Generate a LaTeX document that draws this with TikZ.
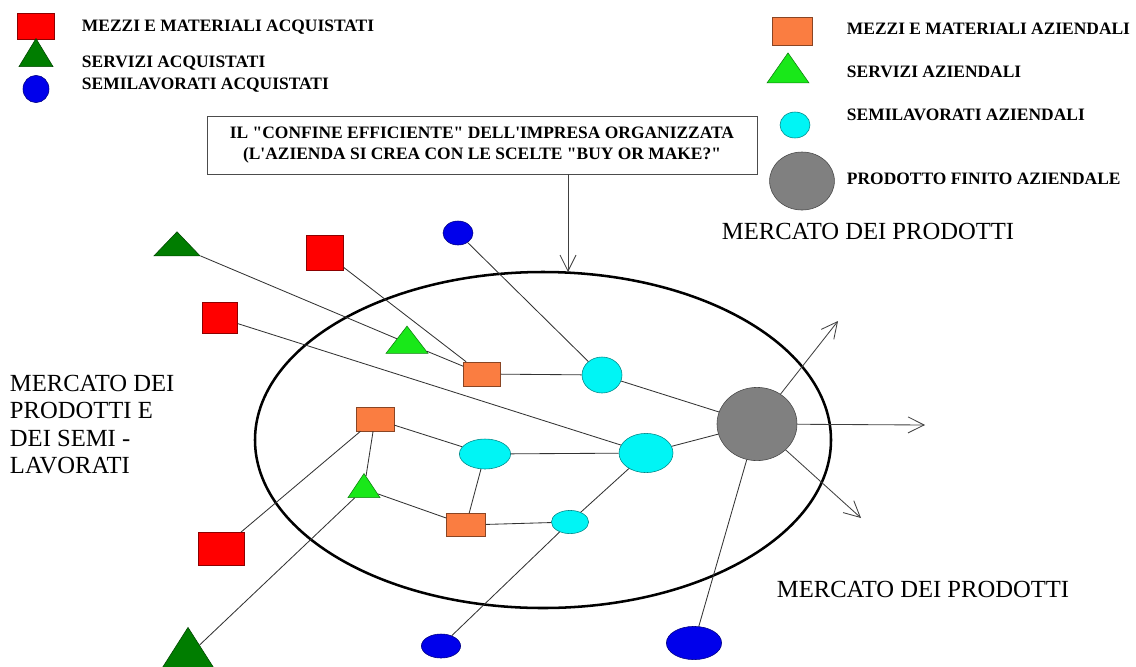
\documentclass[tikz,border=0pt]{standalone}
\usepackage{fontspec}
\setmainfont{Liberation Serif}
\usetikzlibrary{shapes.geometric,arrows.meta}
\definecolor{rosso}{RGB}{255,0,0}
\definecolor{verdescuro}{RGB}{0,125,0}
\definecolor{verdechiaro}{RGB}{25,232,25}
\definecolor{arancio}{RGB}{250,125,65}
\definecolor{ciano}{RGB}{0,245,245}
\definecolor{blu}{RGB}{0,0,235}
\definecolor{grigio}{RGB}{128,128,128}
\tikzset{
    %Define standard arrow tip
    >={Straight Barb[length=4mm,width=4mm]},
    %Define styles for the shapes
    mezzo/.style={
           rectangle,
           draw=#1!55!black,
           fill=#1,
           inner sep=0pt},
    servizio/.style={
           isosceles triangle,
           isosceles triangle stretches,
           shape border rotate=90,
           draw=#1!55!black,
           fill=#1,
           inner sep=0pt},
    semilav/.style={
           ellipse,
           draw=#1!55!black,
           fill=#1,
           inner sep=0pt},
    legenda/.style={
           anchor=west,
           font=\fontsize{12.4}{14}\selectfont\bfseries},
    mercato/.style={
           anchor=west,
           font=\fontsize{17.5}{19.5}\selectfont},
    % Define line styles
    legame/.style={
           draw=black!80,
           line width=0.6pt},
    uscita/.style={
           ->,
           draw=black!75,
           line width=0.6pt}
}
\newcommand{\dq}{\textquotedbl}
\newcommand{\ap}{\textquotesingle}
\begin{document}
\begin{tikzpicture}[x=0.025cm,y=-0.025cm]
\useasboundingbox (0,0) rectangle (1136,666);
% legend, purchased items
\node[mezzo=rosso, minimum width=0.93cm, minimum height=0.65cm] (lr) at (36,26) {};
\node[servizio=verdescuro, minimum width=0.85cm, minimum height=0.7cm] (lt) at (36,57) {};
\node[semilav=blu, minimum width=0.65cm, minimum height=0.68cm] (lc) at (36,89) {};
\node[legenda] at (77,27) {MEZZI E MATERIALI ACQUISTATI};
\node[legenda] at (77,63) {SERVIZI ACQUISTATI};
\node[legenda] at (77,85) {SEMILAVORATI ACQUISTATI};
% legend, company items
\node[mezzo=arancio, minimum width=1cm, minimum height=0.7cm] (ar) at (792,31) {};
\node[servizio=verdechiaro, minimum width=1.05cm, minimum height=0.75cm] (at) at (788,72) {};
\node[semilav=ciano, minimum width=0.75cm, minimum height=0.65cm] (ac) at (795,125) {};
\node[semilav=grigio, minimum width=1.62cm, minimum height=1.45cm] (ap) at (802,181) {};
\node[legenda] at (842,29) {MEZZI E MATERIALI AZIENDALI};
\node[legenda] at (842,72) {SERVIZI AZIENDALI};
\node[legenda] at (842,115) {SEMILAVORATI AZIENDALI};
\node[legenda] at (842,179) {PRODOTTO FINITO AZIENDALE};
% markets
\node[mercato] (mp1) at (717,231) {MERCATO DEI PRODOTTI};
\node[mercato] (mp2) at (772,589) {MERCATO DEI PRODOTTI};
\node[mercato, anchor=north west, align=left] (ms) at (5,370) {MERCATO DEI\\PRODOTTI E\\DEI SEMI -\\LAVORATI};
% boundary of the firm
\draw[line width=1.8pt] (543,440) ellipse [x radius=288, y radius=168];
\coordinate (bordo) at (568,272);
\node[draw=black!70, line width=0.6pt, minimum width=13.75cm, minimum height=1.45cm,
      align=center, font=\fontsize{12.4}{14.5}\selectfont\bfseries] (conf) at (482,145)
      {IL \dq CONFINE EFFICIENTE\dq{} DELL\ap IMPRESA ORGANIZZATA\\(L\ap AZIENDA SI CREA CON LE SCELTE \dq BUY OR MAKE?\dq};
\draw[uscita] (conf.south -| bordo) -- (bordo);
% purchased items
\node[servizio=verdescuro, minimum width=1.15cm, minimum height=0.6cm] (t1) at (177,246) {};
\node[mezzo=rosso, minimum width=0.93cm, minimum height=0.88cm] (r1) at (325,253) {};
\node[semilav=blu, minimum width=0.75cm, minimum height=0.6cm] (b1) at (458,233) {};
\node[mezzo=rosso, minimum width=0.88cm, minimum height=0.78cm] (r2) at (220,318) {};
\node[mezzo=rosso, minimum width=1.15cm, minimum height=0.83cm] (r3) at (221,549) {};
\node[servizio=verdescuro, minimum width=1.4cm, minimum height=1.1cm] (t4) at (188,656) {};
\node[semilav=blu, minimum width=0.98cm, minimum height=0.6cm] (b2) at (441,646) {};
\node[semilav=blu, minimum width=1.38cm, minimum height=0.83cm] (b3) at (694,643) {};
% company items
\node[servizio=verdechiaro, minimum width=1.05cm, minimum height=0.68cm] (t2) at (407,343) {};
\node[mezzo=arancio, minimum width=0.93cm, minimum height=0.6cm] (o1) at (482,374) {};
\node[semilav=ciano, minimum width=1cm, minimum height=0.9cm] (c1) at (602,375) {};
\node[mezzo=arancio, minimum width=0.95cm, minimum height=0.6cm] (o2) at (375,419) {};
\node[semilav=ciano, minimum width=1.28cm, minimum height=0.75cm] (c2) at (485,454) {};
\node[semilav=ciano, minimum width=1.35cm, minimum height=0.98cm] (c3) at (646,453) {};
\node[servizio=verdechiaro, minimum width=0.8cm, minimum height=0.6cm] (t3) at (364,489) {};
\node[mezzo=arancio, minimum width=0.98cm, minimum height=0.58cm] (o3) at (466,525) {};
\node[semilav=ciano, minimum width=0.93cm, minimum height=0.58cm] (c4) at (570,522) {};
\node[semilav=grigio, minimum width=2cm, minimum height=1.83cm] (g) at (757,424) {};
% links
\path[legame]
	(t1) edge (t2)
	(t2) edge (o1)
	(r1) edge (o1)
	(b1) edge (c1)
	(o1) edge (c1)
	(r2) edge (c3)
	(c1) edge (g)
	(c3) edge (g)
	(o2) edge (c2)
	(c2) edge (c3)
	(c2) edge (o3)
	(o3) edge (c4)
	(c4) edge (c3)
	(o2) edge (t3)
	(t3) edge (o3)
	(r3) edge (o2)
	(t4) edge (t3)
	(c4) edge (b2)
	(g) edge (b3);
% outputs to the market
\coordinate (su) at (838,321);
\coordinate (dx) at (925,425);
\coordinate (giu) at (861,518);
\draw[uscita] (g) -- (su);
\draw[uscita] (g) -- (dx);
\draw[uscita] (g) -- (giu);
\end{tikzpicture}
\end{document}
